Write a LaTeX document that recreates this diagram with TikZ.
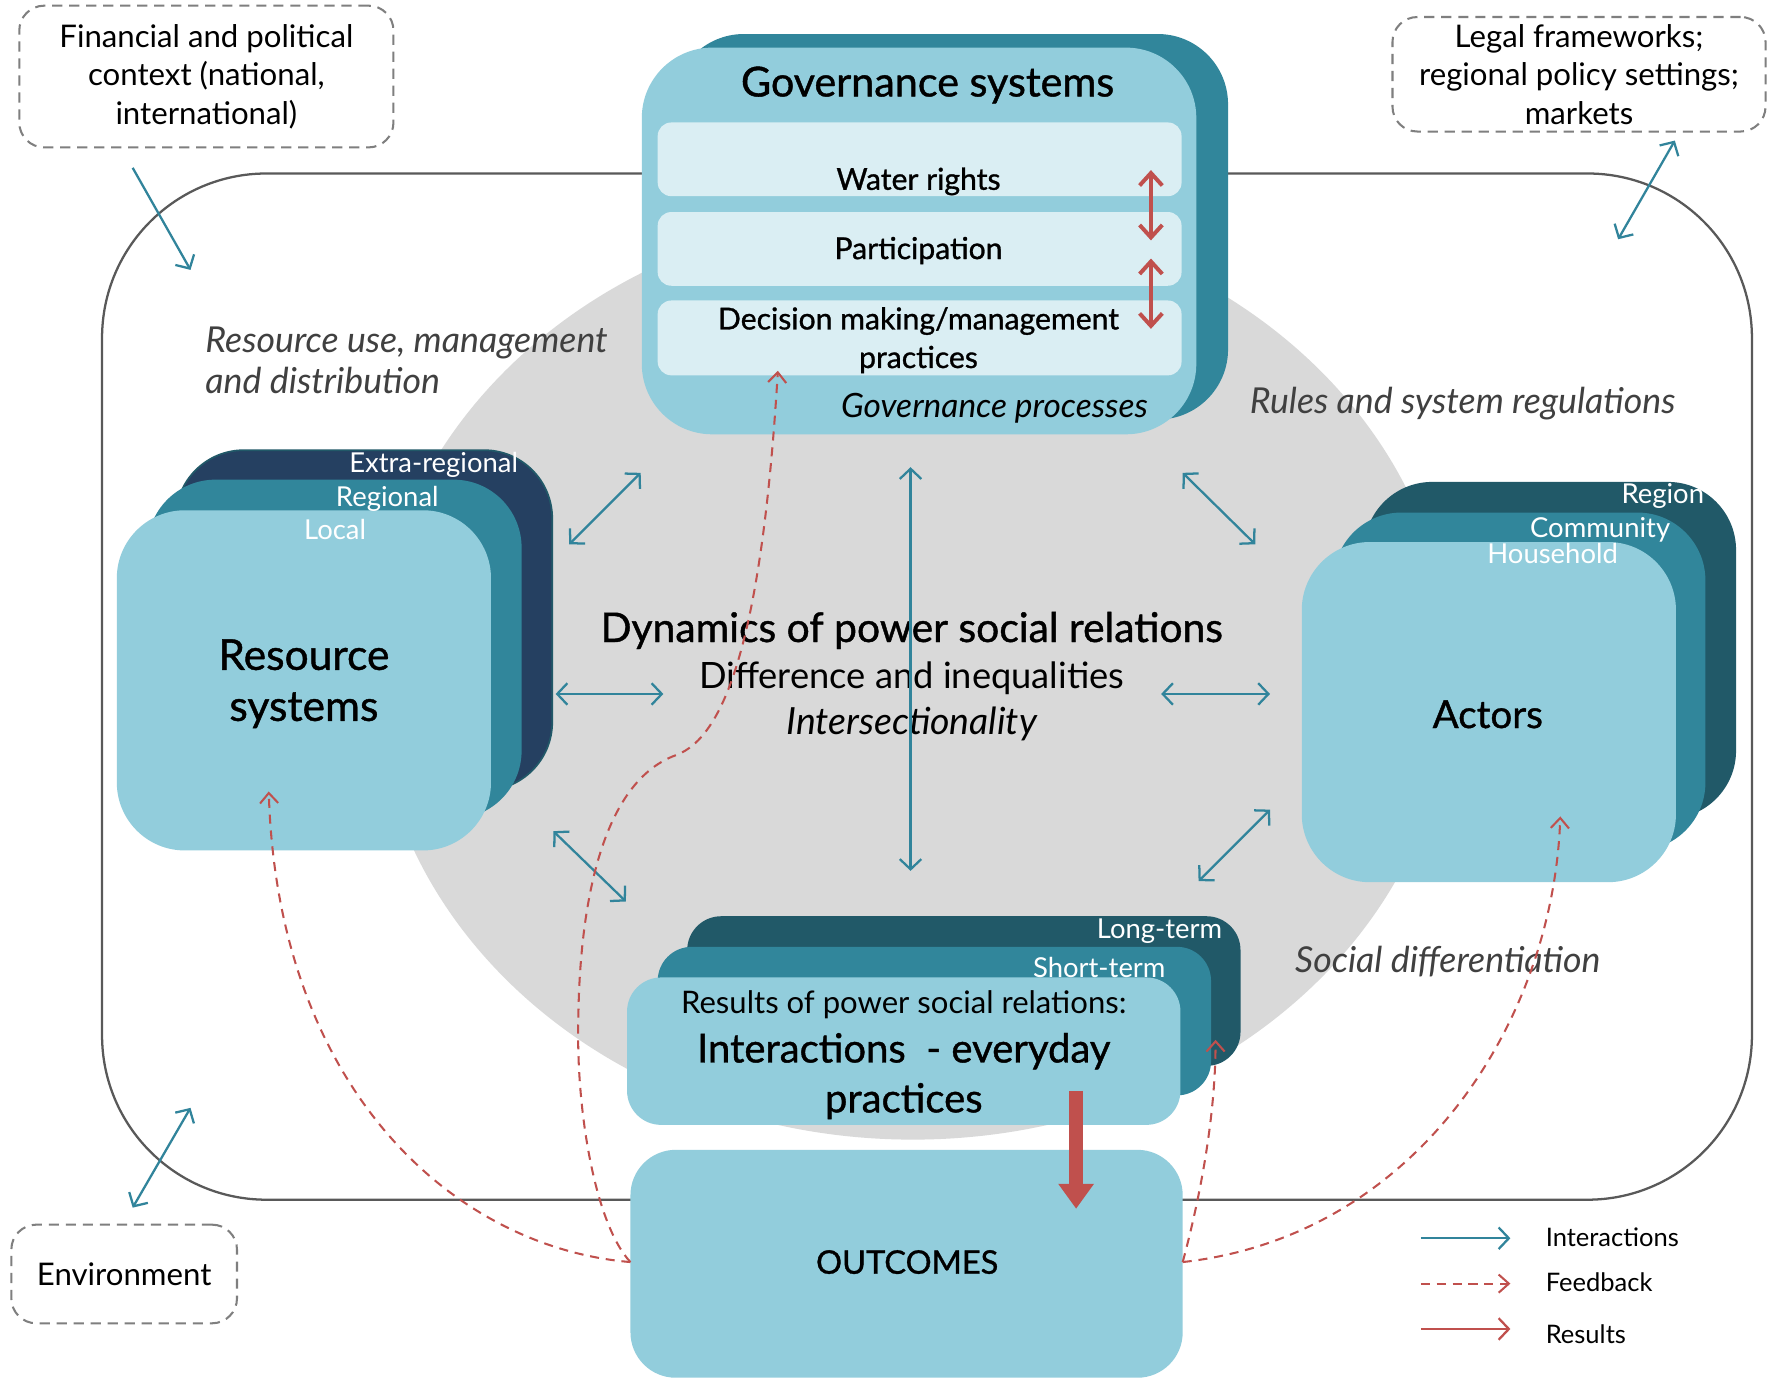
\documentclass[tikz,border=0pt]{standalone}
\usepackage{fontspec}
\setmainfont{Lato}
\newfontfamily\medf{Lato}[FakeBold=1.0]
\usetikzlibrary{arrows.meta}
\definecolor{lightb}{HTML}{92CDDC}
\definecolor{tealb}{HTML}{31869B}
\definecolor{darkt}{HTML}{215968}
\definecolor{navyb}{HTML}{254061}
\definecolor{paleb}{HTML}{DAEEF3}
\definecolor{ellg}{HTML}{D9D9D9}
\definecolor{outl}{HTML}{595959}
\definecolor{blueA}{HTML}{31849B}
\definecolor{redA}{HTML}{C0504D}
\definecolor{dashg}{HTML}{7F7F7F}
\definecolor{itg}{HTML}{404040}
\newcommand{\fs}[2]{\fontsize{#1}{#2}\selectfont}
\begin{document}
\begin{tikzpicture}[x=1pt,y=-1pt,
  panel/.style={rectangle, inner sep=0pt, rounded corners=#1},
  ctx/.style={rectangle, draw=dashg, line width=1.8pt, dash pattern=on 9pt off 6pt, rounded corners=22pt, inner sep=0pt, align=center, font=\fs{27.5}{34}},
  itl/.style={font=\itshape\fs{31.5}{36}, text=itg, inner sep=0pt, align=left},
  lvl/.style={font=\fs{24.2}{26}, text=white, inner sep=0pt, anchor=east},
  ia/.style={draw=blueA, line width=2pt, >={Straight Barb[length=9pt,width=19pt]}},
  fb/.style={draw=redA, line width=1.8pt, dash pattern=on 8pt off 6pt, ->, >={Straight Barb[length=9pt,width=16pt]}},
  ga/.style={draw=redA, line width=3.5pt, <->, >={Straight Barb[length=11pt,width=20pt]}},
  lgt/.style={font=\fs{22.5}{26}, anchor=west, inner sep=0pt}
]
\fill[white] (0,0) rectangle (1568,1214.4);
\useasboundingbox (0,0) rectangle (1568,1214.4);

% outer frame and ellipse
\draw[outl, line width=2pt, rounded corners=145pt] (90,153) rectangle (1545,1058);
\fill[ellg] (805,595) ellipse [x radius=475, y radius=410];

% context boxes
\node[ctx, minimum width=330pt, minimum height=125pt] (fin) at (182,67.5) {Financial and political\\context (national,\\international)};
\node[ctx, minimum width=329pt, minimum height=101pt] (legal) at (1392.5,65.5) {Legal frameworks;\\regional policy settings;\\markets};
\node[ctx, minimum width=199pt, minimum height=87pt] (env) at (109.5,1123.5) {Environment};

% italic labels
\node[itl, anchor=west] (rum) at (181,318) {Resource use, management\\and distribution};
\node[itl, anchor=west] (rsr) at (1102,356) {Rules and system regulations};
\node[itl, anchor=west] (sdf) at (1142,848) {Social differentiation};

% governance systems
\node[panel=62pt, fill=tealb, minimum width=489pt, minimum height=340pt] (govback) at (838.5,200) {};
\node[panel=62pt, fill=lightb, minimum width=489pt, minimum height=341pt] (gov) at (810.5,212.5) {};
\node[font=\medf\fs{36.4}{40}, inner sep=0pt] (govt) at (818,75) {Governance systems};
\node[panel=12pt, fill=paleb, minimum width=462pt, minimum height=65pt] (wr) at (811,140.5) {};
\node[panel=12pt, fill=paleb, minimum width=462pt, minimum height=65pt] (pa) at (811,219.5) {};
\node[panel=12pt, fill=paleb, minimum width=462pt, minimum height=66pt] (dm) at (811,298) {};
\node[font=\medf\fs{26.6}{34}, inner sep=0pt] (wrt) at (810,160) {Water rights};
\node[font=\medf\fs{26.6}{34}, inner sep=0pt] (pat) at (810,221) {Participation};
\node[font=\medf\fs{26.6}{34}, inner sep=0pt, align=center] (dmt) at (810,300) {Decision making/management\\practices};
\node[font=\itshape\fs{29.5}{30}, inner sep=0pt] (gp) at (877,360) {Governance processes};
\coordinate (g1a) at (1015,150); \coordinate (g1b) at (1015,212);
\coordinate (g2a) at (1015,228); \coordinate (g2b) at (1015,290);
\draw[ga] (g1a) -- (g1b);
\draw[ga] (g2a) -- (g2b);

% resource systems
\node[panel=60pt, fill=navyb, draw=darkt, line width=1.5pt, minimum width=332pt, minimum height=300pt] (resback) at (321,547) {};
\node[panel=60pt, fill=tealb, minimum width=330pt, minimum height=299pt] (resmid) at (295,572.5) {};
\node[panel=60pt, fill=lightb, minimum width=330pt, minimum height=300pt] (res) at (268,600) {};
\node[lvl] (l1) at (457,410) {Extra-regional};
\node[lvl] (l2) at (387,440) {Regional};
\node[lvl] (l3) at (323,467) {Local};
\node[font=\medf\fs{37.5}{45}, align=center, inner sep=0pt] (rest) at (268,603) {Resource\\systems};

% actors
\node[panel=60pt, fill=darkt, minimum width=328pt, minimum height=297pt] (actback) at (1367,573.5) {};
\node[panel=60pt, fill=tealb, minimum width=328pt, minimum height=298pt] (actmid) at (1340,601) {};
\node[panel=60pt, fill=lightb, minimum width=330pt, minimum height=300pt] (act) at (1313,628) {};
\node[lvl] (a1) at (1503,437) {Region};
\node[lvl] (a2) at (1473,467) {Community};
\node[lvl] (a3) at (1427,488) {Household};
\node[font=\medf\fs{34}{40}, inner sep=0pt] (actt) at (1312,630) {Actors};

% interactions
\node[panel=30pt, fill=darkt, minimum width=488pt, minimum height=132pt] (intback) at (850,874) {};
\node[panel=30pt, fill=tealb, minimum width=488pt, minimum height=131pt] (intmid) at (824,900.5) {};
\node[panel=30pt, fill=lightb, minimum width=488pt, minimum height=130pt] (int) at (797,927) {};
\node[lvl] (t1) at (1078,821) {Long-term};
\node[lvl] (t2) at (1028,853) {Short-term};
\node[font=\fs{27.4}{30}, inner sep=0pt] (rp) at (797,886) {Results of power social relations:};
\node[font=\medf\fs{35.3}{44}, align=center, inner sep=0pt] (intt) at (797,949) {Interactions\ \ - everyday\\practices};

% outcomes
\node[panel=40pt, fill=lightb, minimum width=487pt, minimum height=201pt] (out) at (799.5,1114.5) {};
\node[font=\medf\fs{28.7}{34}, inner sep=0pt] (outt) at (800,1113) {OUTCOMES};

% centre texts
\node[font=\medf\fs{36}{38}, inner sep=0pt] (dyn) at (804,556) {Dynamics of power social relations};
\node[font=\fs{32}{34}, inner sep=0pt] (diff) at (804,598) {Difference and inequalities};
\node[font=\itshape\fs{33}{34}, inner sep=0pt] (isec) at (804,638) {Intersectionality};

% interaction arrows
\coordinate (f1) at (117,148); \coordinate (f2) at (168,238);
\draw[ia, ->] (f1) -- (f2);
\coordinate (lg1) at (1427,211); \coordinate (lg2) at (1477,124);
\draw[ia, <->] (lg1) -- (lg2);
\coordinate (e1) at (117,1065); \coordinate (e2) at (168,977);
\draw[ia, <->] (e1) -- (e2);
\coordinate (rg1) at (502,480); \coordinate (rg2) at (565,417);
\draw[ia, <->] (rg1) -- (rg2);
\coordinate (ga1) at (1043,417); \coordinate (ga2) at (1107,480);
\draw[ia, <->] (ga1) -- (ga2);
\coordinate (v1) at (803,412); \coordinate (v2) at (803,768);
\draw[ia, <->] (v1) -- (v2);
\coordinate (h1) at (490,612); \coordinate (h2) at (585,612);
\draw[ia, <->] (h1) -- (h2);
\coordinate (h3) at (1024,612); \coordinate (h4) at (1120,612);
\draw[ia, <->] (h3) -- (h4);
\coordinate (ri1) at (488,733); \coordinate (ri2) at (552,795);
\draw[ia, <->] (ri1) -- (ri2);
\coordinate (ai1) at (1057,777); \coordinate (ai2) at (1120,714);
\draw[ia, <->] (ai1) -- (ai2);

% result arrow
\coordinate (r1) at (949,962); \coordinate (r2) at (949,1066);
\draw[redA, line width=12pt, -{Triangle[length=22pt,width=30pt]}] (r1) -- (r2);

% feedback
\coordinate (oL) at (556,1113); \coordinate (oR) at (1043,1113);
\coordinate (fbres) at (237,698); \coordinate (fbgov) at (686,327);
\coordinate (fbint) at (1072,917); \coordinate (fbact) at (1376,720);
\coordinate (k1) at (510,900); \coordinate (k2) at (596,666);
\draw[fb] (oL) .. controls (400,1100) and (245,960) .. (fbres);
\draw[fb] (oL) .. controls (525,1080) and (508,980) .. (k1) .. controls (511,800) and (530,690) .. (k2) .. controls (640,650) and (672,560) .. (fbgov);
\draw[fb] (oR) .. controls (1060,1050) and (1072,980) .. (fbint);
\draw[fb] (oR) .. controls (1250,1090) and (1370,900) .. (fbact);

% legend
\coordinate (la1) at (1253,1092); \coordinate (la2) at (1332,1092);
\coordinate (lb1) at (1253,1132); \coordinate (lb2) at (1332,1132);
\coordinate (lc1) at (1253,1172); \coordinate (lc2) at (1332,1172);
\draw[ia, ->] (la1) -- (la2);
\draw[fb] (lb1) -- (lb2);
\draw[draw=redA, line width=2pt, ->, >={Straight Barb[length=9pt,width=19pt]}] (lc1) -- (lc2);
\node[lgt] (lt1) at (1363,1091) {Interactions};
\node[lgt] (lt2) at (1363,1131) {Feedback};
\node[lgt] (lt3) at (1363,1177) {Results};
\end{tikzpicture}
\end{document}
